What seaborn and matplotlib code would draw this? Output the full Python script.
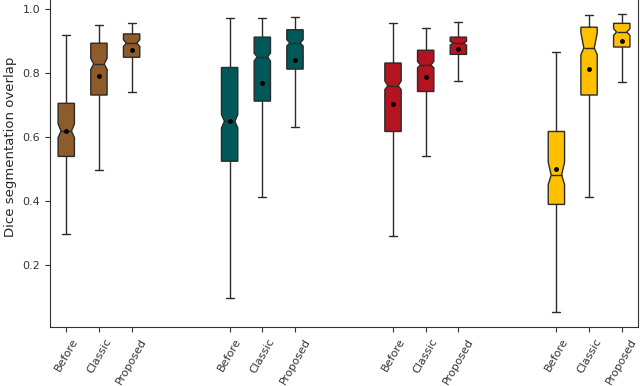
import matplotlib
matplotlib.use("Agg")
import matplotlib.pyplot as plt
import seaborn as sns

sns.set_style("ticks")
plt.rcParams['font.family'] = ['DejaVu Sans']

methods = ["Before", "Classic", "Proposed"]
group_colors = ["#8E5B2A", "#005859", "#B3141F", "#FFC000"]

# per group, per method (Before, Classic, Proposed)
whislo = [[0.294, 0.496, 0.738], [0.095, 0.410, 0.630], [0.290, 0.540, 0.774], [0.052, 0.410, 0.772]]
q1     = [[0.538, 0.730, 0.848], [0.523, 0.711, 0.811], [0.616, 0.741, 0.857], [0.388, 0.730, 0.880]]
med    = [[0.617, 0.827, 0.892], [0.648, 0.849, 0.893], [0.759, 0.824, 0.892], [0.480, 0.877, 0.927]]
q3     = [[0.704, 0.892, 0.921], [0.816, 0.911, 0.934], [0.830, 0.870, 0.911], [0.616, 0.942, 0.954]]
whishi = [[0.917, 0.949, 0.954], [0.970, 0.970, 0.974], [0.955, 0.938, 0.957], [0.866, 0.980, 0.982]]
means  = [[0.617, 0.788, 0.872], [0.650, 0.768, 0.838], [0.702, 0.786, 0.874], [0.499, 0.811, 0.900]]
cilo   = [[0.597, 0.810, 0.882], [0.627, 0.836, 0.883], [0.747, 0.815, 0.886], [0.450, 0.856, 0.916]]
cihi   = [[0.640, 0.845, 0.903], [0.669, 0.861, 0.903], [0.774, 0.835, 0.898], [0.520, 0.925, 0.938]]

fig = plt.figure(figsize=(6.4, 3.86), dpi=100)
ax = fig.add_axes([0.078, 0.153, 0.919, 0.847])

stats, positions, colors, labels = [], [], [], []
for g in range(4):
    for m in range(3):
        stats.append(dict(med=med[g][m], q1=q1[g][m], q3=q3[g][m],
                          whislo=whislo[g][m], whishi=whishi[g][m],
                          mean=means[g][m], cilo=cilo[g][m], cihi=cihi[g][m],
                          fliers=[]))
        positions.append(1 + 5 * g + m)
        colors.append(group_colors[g])
        labels.append(methods[m])

width = 0.5
bp = ax.bxp(stats, positions=positions, widths=width, shownotches=True,
            showmeans=True, patch_artist=True,
            boxprops=dict(edgecolor="#2b2b2b", linewidth=1.0),
            medianprops=dict(color="#2b2b2b", linewidth=1.0),
            whiskerprops=dict(color="#2b2b2b", linewidth=1.0),
            capprops=dict(color="#2b2b2b", linewidth=1.0),
            meanprops=dict(marker="o", markerfacecolor="black",
                           markeredgecolor="black", markersize=2.5))
# shallower notches, as in the reference
nh = width * 0.32
for patch, c, pos, medline in zip(bp["boxes"], colors, positions, bp["medians"]):
    patch.set_facecolor(c)
    path = patch.get_path()
    verts = path.vertices.copy()
    verts[3, 0] = pos + nh
    verts[8, 0] = pos - nh
    path.vertices = verts
    medline.set_xdata([pos - nh, pos + nh])

ax.set_xlim(0.5, 18.5)
ax.set_ylim(0.005, 1.027)
ax.set_xticks(positions)
ax.set_xticklabels(labels, rotation=60, fontsize=8)
ax.set_yticks([0.2, 0.4, 0.6, 0.8, 1.0])
ax.set_yticklabels(["0.2", "0.4", "0.6", "0.8", "1.0"], fontsize=8)
ax.set_ylabel("Dice segmentation overlap", fontsize=9.5)
ax.yaxis.set_label_coords(-0.056, 0.55)
ax.spines["top"].set_visible(False)
for s in ["left", "bottom", "right"]:
    ax.spines[s].set_color("#333333")
ax.tick_params(colors="#333333", length=3.5)

fig.savefig("out.png", dpi=100)
